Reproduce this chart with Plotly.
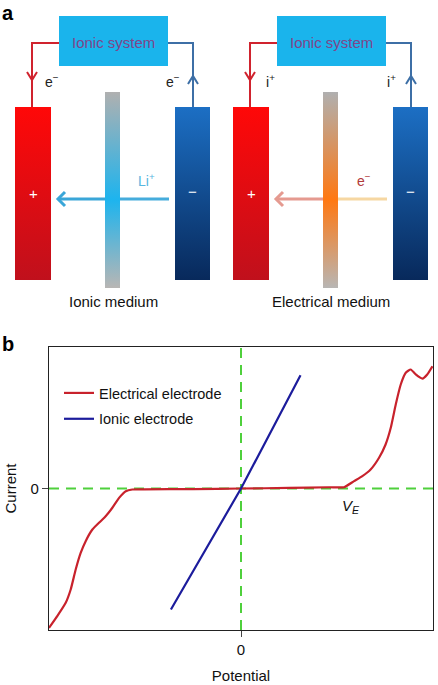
import plotly.graph_objects as go

W, H = 438, 685
FONT = "Liberation Sans, Arial, sans-serif"

# ---- panel b data (arbitrary units) ----
potential = [-1.0, -0.957, -0.913, -0.887, -0.861, -0.835, -0.809, -0.774, -0.731, -0.705,
             -0.670, -0.635, -0.600, -0.566, -0.505, -0.25, 0.0, 0.25, 0.458, 0.536,
             0.589, 0.632, 0.675, 0.719, 0.753, 0.780, 0.806, 0.832, 0.858, 0.884,
             0.910, 0.945, 0.970, 0.997]
electrical_current = [-0.985, -0.902, -0.808, -0.714, -0.572, -0.455, -0.372, -0.290, -0.231, -0.196,
                      -0.136, -0.066, -0.019, -0.007, -0.006, -0.004, 0.0, 0.004, 0.009, 0.009,
                      0.052, 0.087, 0.134, 0.217, 0.311, 0.429, 0.594, 0.735, 0.818, 0.841,
                      0.806, 0.777, 0.806, 0.864]
ionic_potential = [-0.365, 0.0, 0.31]
ionic_current = [-0.855, 0.0, 0.80]

series_names = ["Electrical electrode", "Ionic electrode"]
tick_labels = ["0"]
axis_titles = ["Potential", "Current"]
ve_pos = [0.575, -0.13]

# ---- panel a labels ----
panel_a = [
    dict(box="Ionic system", wire="e<sup>−</sup>", flow="Li<sup>+</sup>",
         medium="Ionic medium", mid="#1db4ee", arrow_l="#3aa6d8", arrow_r="#45acdc",
         flow_color="#58b6e0"),
    dict(box="Ionic system", wire="i<sup>+</sup>", flow="e<sup>−</sup>",
         medium="Electrical medium", mid="#ff7812", arrow_l="#e59a90", arrow_r="#f6d7a2",
         flow_color="#b23a3a"),
]

fig = go.Figure()
shapes = []
annotations = []


def grad_rect(x0, x1, y0, y1, scale):
    fig.add_trace(go.Scatter(
        x=[x0, x1, x1, x0, x0], y=[y0, y0, y1, y1, y0],
        xaxis="x2", yaxis="y2", mode="lines", line=dict(width=0),
        fill="toself",
        fillgradient=dict(type="vertical", colorscale=scale, start=y0, stop=y1),
        hoverinfo="skip", showlegend=False))


def poly(xs, ys, color, width=2):
    fig.add_trace(go.Scatter(
        x=xs, y=ys, xaxis="x2", yaxis="y2", mode="lines",
        line=dict(color=color, width=width), hoverinfo="skip", showlegend=False))


for i, cell in enumerate(panel_a):
    ox = 0 if i == 0 else 218
    # wires with chevrons
    poly([59 + ox, 32 + ox, 32 + ox], [43, 43, 107], "#d0232e")
    poly([27 + ox, 32 + ox, 37 + ox], [72, 80, 72], "#d0232e")
    poly([168 + ox, 193 + ox, 193 + ox], [43, 43, 107], "#3d6fa6")
    poly([188 + ox, 193 + ox, 198 + ox], [84, 76, 84], "#3d6fa6")
    # flow arrow (drawn under the medium bar)
    poly([58 + ox, 112 + ox], [199, 199], cell["arrow_l"], 3)
    poly([112 + ox, 169 + ox], [199, 199], cell["arrow_r"], 3)
    poly([65 + ox, 58 + ox, 65 + ox], [192, 199, 206], cell["arrow_l"], 3)
    # electrodes
    grad_rect(15 + ox, 51 + ox, 107, 280, [[0, "#ff0808"], [1, "#c0101c"]])
    grad_rect(175 + ox, 210 + ox, 107, 280, [[0, "#1c6fc4"], [1, "#08295b"]])
    # medium bar
    grad_rect(105 + ox, 120 + ox, 92, 288,
              [[0, "#b0b0b0"], [0.55, cell["mid"]], [1, "#b8b6b4"]])
    # system box
    shapes.append(dict(type="rect", xref="x2", yref="y2", x0=59 + ox, x1=168 + ox,
                       y0=16, y1=66, fillcolor="#1ab4ec", line=dict(width=0)))
    annotations += [
        dict(x=113.5 + ox, y=42, text=cell["box"], font=dict(size=15, color="#80458a")),
        dict(x=52 + ox, y=81, text=cell["wire"], font=dict(size=14, color="#222")),
        dict(x=173 + ox, y=81, text=cell["wire"], font=dict(size=14, color="#222")),
        dict(x=146 + ox, y=180, text=cell["flow"], font=dict(size=14, color=cell["flow_color"])),
        dict(x=33 + ox, y=193, text="+", font=dict(size=15, color="white")),
        dict(x=192 + ox, y=191, text="−", font=dict(size=15, color="white")),
        dict(x=113 + ox, y=301, text=cell["medium"], font=dict(size=15, color="#111")),
    ]

for a in annotations:
    a.update(xref="x2", yref="y2", showarrow=False)

annotations.append(dict(x=8, y=13, xref="x2", yref="y2", text="<b>a</b>", showarrow=False,
                        font=dict(size=20, color="black")))
annotations.append(dict(x=8, y=344, xref="x2", yref="y2", text="<b>b</b>", showarrow=False,
                        font=dict(size=20, color="black")))
annotations.append(dict(x=ve_pos[0], y=ve_pos[1], xref="x", yref="y", showarrow=False,
                        text="<i>V</i><sub><i>E</i></sub>", font=dict(size=15, color="#111")))

# ---- panel b ----
green = dict(color="#4fd03c", width=2, dash="10px,7px")
shapes.append(dict(type="line", xref="x", yref="y", x0=-1, x1=1, y0=0, y1=0, line=green, layer="below"))
shapes.append(dict(type="line", xref="x", yref="y", x0=0, x1=0, y0=-1, y1=1, line=green, layer="below"))

fig.add_trace(go.Scatter(x=potential, y=electrical_current, mode="lines", name=series_names[0],
                         line=dict(color="#c8222c", width=2.2, shape="spline", smoothing=0.5),
                         legendgroup="a"))
fig.add_trace(go.Scatter(x=ionic_potential, y=ionic_current, mode="lines", name=series_names[1],
                         line=dict(color="#1c1c9c", width=2.2), legendgroup="b"))

fig.update_layout(
    width=W, height=H,
    margin=dict(l=0, r=0, t=0, b=0),
    paper_bgcolor="white", plot_bgcolor="rgba(0,0,0,0)",
    font=dict(family=FONT, color="#111"),
    showlegend=True,
    legend=dict(x=59 / W, y=1 - 377 / H, xanchor="left", yanchor="top",
                bgcolor="rgba(0,0,0,0)", font=dict(size=14.5), tracegroupgap=4,
                traceorder="grouped"),
    xaxis=dict(domain=[49 / W, 433 / W], range=[-1, 1], showgrid=False, zeroline=False,
               showline=True, mirror=True, linecolor="#222", linewidth=1.2,
               tickvals=[0], ticktext=tick_labels, ticks="outside", ticklen=6,
               tickfont=dict(size=15), title=dict(text=axis_titles[0], font=dict(size=15), standoff=13)),
    yaxis=dict(domain=[1 - 630 / H, 1 - 347 / H], range=[-1, 1], showgrid=False, zeroline=False,
               showline=True, mirror=True, linecolor="#222", linewidth=1.2,
               tickvals=[0], ticktext=tick_labels, ticks="outside", ticklen=6,
               tickfont=dict(size=15), title=dict(text=axis_titles[1], font=dict(size=15), standoff=10)),
    xaxis2=dict(domain=[0, 1], range=[0, W], anchor="y2", visible=False, fixedrange=True),
    yaxis2=dict(domain=[0, 1], range=[H, 0], anchor="x2", visible=False, fixedrange=True),
    shapes=shapes,
    annotations=annotations,
)

# the page's default body margin would push the figure 8px off the window
fig.write_html("out.html", config={"displayModeBar": False},
               post_script="document.body.style.margin='0';")
